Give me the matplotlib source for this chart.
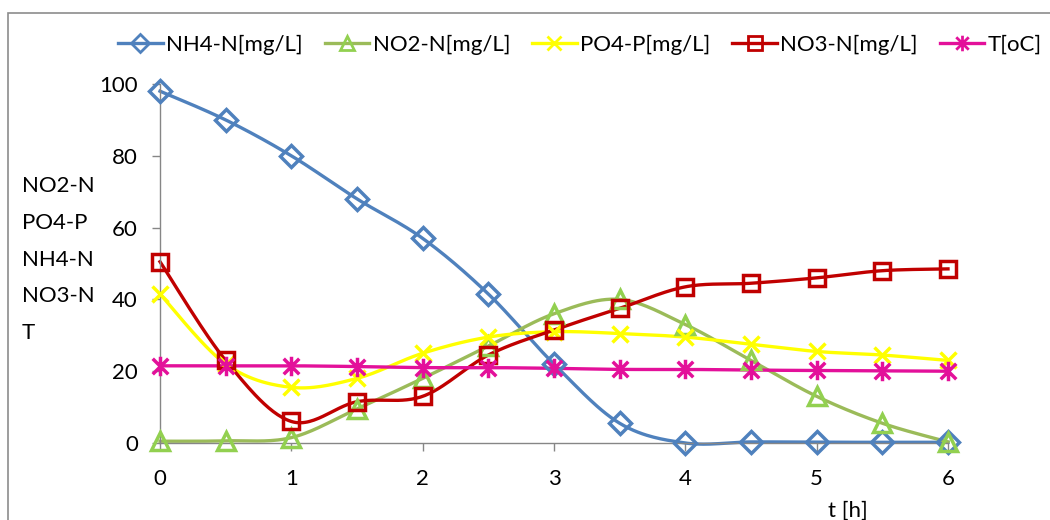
import numpy as np
import matplotlib.pyplot as plt
from matplotlib.path import Path
from matplotlib.patches import Rectangle

plt.rcParams['font.family'] = ['Lato', 'DejaVu Sans']

t_h = [0, 0.5, 1, 1.5, 2, 2.5, 3, 3.5, 4, 4.5, 5, 5.5, 6]
nh4 = [98, 90, 80, 68, 57, 41.5, 22, 5.5, 0, 0.3, 0.2, 0.2, 0.2]
no2 = [0.5, 0.6, 1.5, 9.5, 18, 27, 36, 40, 33, 23, 13, 5.5, 0.3]
po4 = [41.5, 22, 15.5, 18, 25, 29.5, 31, 30.5, 29.5, 27.5, 25.5, 24.5, 23]
no3 = [50.5, 23, 6, 11.5, 13, 24.5, 31.5, 37.5, 43.5, 44.5, 46, 48, 48.5]
temp = [21.5, 21.5, 21.5, 21.3, 21, 21, 20.8, 20.5, 20.5, 20.3, 20.2, 20.1, 20]

y_ticks = [0, 20, 40, 60, 80, 100]
x_ticks = [0, 1, 2, 3, 4, 5, 6]


def smooth(x, y, n=30):
    # Catmull-Rom style bezier curve through the points (spreadsheet "smoothed line")
    x = np.asarray(x, float)
    y = np.asarray(y, float)
    p = np.column_stack([x, y])
    pts = []
    for i in range(len(p) - 1):
        p0 = p[i - 1] if i > 0 else p[i]
        p3 = p[i + 2] if i + 2 < len(p) else p[i + 1]
        c1 = p[i] + (p[i + 1] - p0) / 6
        c2 = p[i + 1] - (p3 - p[i]) / 6
        s = np.linspace(0, 1, n)[:, None]
        seg = ((1 - s) ** 3 * p[i] + 3 * (1 - s) ** 2 * s * c1
               + 3 * (1 - s) * s ** 2 * c2 + s ** 3 * p[i + 1])
        pts.append(seg if i == 0 else seg[1:])
    pts = np.vstack(pts)
    return pts[:, 0], pts[:, 1]


# asterisk marker: vertical bar plus two diagonals
star = Path([(0, -1), (0, 1), (-0.8, -0.8), (0.8, 0.8), (-0.8, 0.8), (0.8, -0.8)],
            [Path.MOVETO, Path.LINETO, Path.MOVETO, Path.LINETO, Path.MOVETO, Path.LINETO])

series = [
    ('NH4-N[mg/L]', nh4, '#4F81BD', '#4F81BD', 'D', 11),
    ('NO2-N[mg/L]', no2, '#9BBB59', '#92D050', '^', 13),
    ('PO4-P[mg/L]', po4, '#FFFF00', '#FFFF00', 'x', 12),
    ('NO3-N[mg/L]', no3, '#C00000', '#C00000', 's', 12),
    ('T[oC]', temp, '#E3109A', '#E3109A', star, 14),
]

fig = plt.figure(figsize=(10.5, 5.2), dpi=100)
ax = fig.add_axes([160 / 1050, 1 - 443 / 520, 788 / 1050, 359 / 520])

fig.patches.append(Rectangle((8 / 1050, -0.1), 1.2, (520 - 13) / 520 + 0.1,
                             transform=fig.transFigure, fill=False,
                             edgecolor='#8C8C8C', linewidth=1.2))

handles = []
for label, vals, lc, mc, mk, ms in series:
    sx, sy = smooth(t_h, vals)
    ax.plot(sx, sy, color=lc, linewidth=2.4, clip_on=False, zorder=2)
    ax.plot(t_h, vals, linestyle='none', marker=mk, markersize=ms,
            markerfacecolor='none', markeredgecolor=mc, markeredgewidth=2.5,
            clip_on=False, zorder=3)
    h, = ax.plot([], [], color=lc, linewidth=2.4, marker=mk, markersize=ms * 0.8,
                 markerfacecolor='none', markeredgecolor=mc, markeredgewidth=2.0,
                 label=label)
    handles.append(h)

ax.set_xlim(0, 6)
ax.set_ylim(0, 100)
ax.set_xticks(x_ticks)
ax.set_yticks(y_ticks)
for s in ['top', 'right']:
    ax.spines[s].set_visible(False)
for s in ['left', 'bottom']:
    ax.spines[s].set_color('#868686')
    ax.spines[s].set_linewidth(1.0)
ax.tick_params(axis='both', colors='#868686', labelcolor='black', labelsize=16,
               length=6, width=1.0, direction='out')
ax.tick_params(axis='y', pad=10)
ax.tick_params(axis='x', pad=13)

fig.text(22 / 1050, 1 - 176 / 520, 'NO2-N\nPO4-P\nNH4-N\nNO3-N\nT',
         fontsize=16, va='top', ha='left', linespacing=2.05)
fig.text(848 / 1050, 1 - 511 / 520, 't [h]', fontsize=16, ha='center', va='center')

fig.legend(handles=handles, loc='center', bbox_to_anchor=(580 / 1050, 1 - 45 / 520),
           ncol=5, frameon=False, fontsize=16, handlelength=2.0, handletextpad=0.15,
           columnspacing=1.0, borderpad=0.2)

fig.savefig('out.png', dpi=100)
